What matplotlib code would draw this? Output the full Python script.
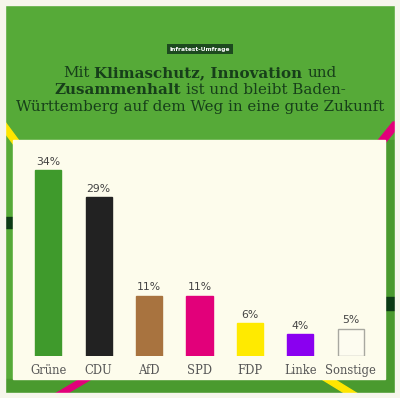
import matplotlib
matplotlib.use("Agg")
import matplotlib.pyplot as plt
from matplotlib.patches import Rectangle, Polygon

# ---- data ----
parties = ["Grüne", "CDU", "AfD", "SPD", "FDP", "Linke", "Sonstige"]
values = [34, 29, 11, 11, 6, 4, 5]
labels = ["34%", "29%", "11%", "11%", "6%", "4%", "5%"]
bar_colors = ["#3f9a2c", "#222222", "#a8733f", "#e2007a", "#ffea00", "#8a00f0", "#fdfcf0"]
edge_colors = ["#3f9a2c", "#222222", "#a8733f", "#e2007a", "#ffea00", "#8a00f0", "#a8a8a0"]
badge_text = "Infratest-Umfrage"
title_lines = [
    [("Mit", "normal"), ("Klimaschutz, Innovation", "bold"), ("und", "normal")],
    [("Zusammenhalt", "bold"), ("ist und bleibt Baden-", "normal")],
    [("Württemberg auf dem Weg in eine gute Zukunft", "normal")],
]

W, H = 400, 398
fig = plt.figure(figsize=(W / 100, H / 100), dpi=100)
fig.patch.set_facecolor("#f6f6ec")

bg = fig.add_axes([0, 0, 1, 1], zorder=0)
bg.set_xlim(0, W)
bg.set_ylim(H, 0)
bg.axis("off")

GREEN = "#56aa38"
CREAM = "#fdfcec"
bg.add_patch(Rectangle((5, 5), 390, 388, color=GREEN, zorder=1))
bg.add_patch(Rectangle((5, 379), 390, 14, color="#4a9a2f", zorder=1.1))
bg.add_patch(Rectangle((385, 140), 10, 253, color="#4a9a2f", zorder=1.1))
# decorative stripes
bg.add_patch(Polygon([(-3, 122), (5, 122), (25, 149), (17, 149)], color="#ffe600", zorder=2))
bg.add_patch(Polygon([(372, 148), (381, 148), (402, 122), (393, 122)], color="#e2007a", zorder=2))
bg.add_patch(Rectangle((5, 217), 8, 11, color="#0b3a14", zorder=2))
bg.add_patch(Rectangle((385, 297), 10, 13, color="#0b3a14", zorder=2))
bg.add_patch(Polygon([(55, 394), (66, 394), (93, 378), (82, 378)], color="#e2007a", zorder=2))
bg.add_patch(Polygon([(320, 378), (332, 378), (358, 394), (346, 394)], color="#ffe600", zorder=2))
# cream panel
bg.add_patch(Rectangle((13, 140), 372, 239, color=CREAM, zorder=3))
# outer border over everything
for r in [(0, 0, W, 5), (0, 393, W, 5), (0, 0, 5, H), (395, 0, 5, H)]:
    bg.add_patch(Rectangle(r[:2], r[2], r[3], color="#f6f6ec", zorder=4))

# badge
bg.text(200, 49, badge_text, ha="center", va="center", fontsize=4.2, weight="bold",
        color="white", family="DejaVu Sans", zorder=5,
        bbox=dict(boxstyle="square,pad=0.45", fc="#1d4a1f", ec="none"))

# title with mixed weights
renderer = fig.canvas.get_renderer()
TFS = 10.9
TCOL = "#173f1a"
TFAM = "DejaVu Serif"

def width_of(s, w):
    t = bg.text(0, 0, s, fontsize=TFS, weight=w, family=TFAM)
    wd = t.get_window_extent(renderer).width
    t.remove()
    return wd

space_w = width_of("x x", "normal") - width_of("xx", "normal")
line_y = [73, 90, 107]
for segs, y in zip(title_lines, line_y):
    widths = [width_of(s, w) for s, w in segs]
    total = sum(widths) + space_w * (len(segs) - 1)
    x = 200 - total / 2
    for (s, w), wd in zip(segs, widths):
        bg.text(x, y, s, fontsize=TFS, weight=w, family=TFAM, color=TCOL,
                ha="left", va="center", zorder=5)
        x += wd + space_w

# bar chart
left_px, right_px = 23, 376
bottom_px = 356
ymax = 40
px_per = 5.47
top_px = bottom_px - ymax * px_per
ax = fig.add_axes([left_px / W, (H - bottom_px) / H, (right_px - left_px) / W,
                   (bottom_px - top_px) / H], zorder=1)
ax.patch.set_visible(False)
x = list(range(len(parties)))
ax.bar(x, values, width=0.52, color=bar_colors, edgecolor=edge_colors, linewidth=1.0)
ax.set_xlim(-0.5, len(parties) - 0.5)
ax.set_ylim(0, ymax)
for i, (v, lab) in enumerate(zip(values, labels)):
    ax.annotate(lab, (i, v), xytext=(0, 2.5), textcoords="offset points",
                ha="center", va="bottom", fontsize=7.8, color="#444444",
                family="DejaVu Sans")
ax.set_xticks(x)
ax.set_xticklabels(parties, fontsize=8.3, color="#555555", family="DejaVu Serif")
ax.tick_params(axis="x", length=0, pad=6)
ax.set_yticks([])
for s in ax.spines.values():
    s.set_visible(False)

fig.savefig("out.png", dpi=100)
